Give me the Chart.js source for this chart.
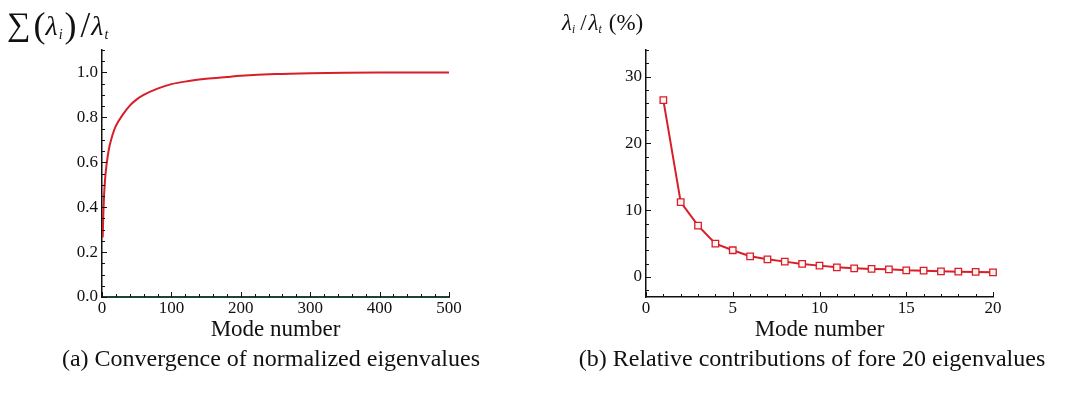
<!DOCTYPE html>
<html>
<head>
<meta charset="utf-8">
<script src="https://cdn.jsdelivr.net/npm/chart.js@4"></script>
<style>
  body { margin: 0; background: #fff; width: 1077px; height: 398px; position: relative; overflow: hidden;
         font-family: "Liberation Serif", "Times New Roman", serif; color: #111; }
  .box { position: absolute; top: 0; height: 350px; }
  #boxA { left: 0; width: 540px; }
  #boxB { left: 540px; width: 537px; }
  .ytitle { position: absolute; white-space: nowrap; line-height: 1; }
  #titleA { left: 7px; top: 5px; font-size: 28px; }
  #titleA .sum { font-size: 33px; margin-right: 3px; }
  #titleA .par { font-size: 36px; position: relative; top: 2px; }
  #titleA .sl { font-size: 35px; margin: 0 1px 0 4px; position: relative; top: 2px; }
  #titleA sub { margin: 0 2px 0 1px; }
  #titleB { left: 562px; top: 11px; font-size: 23px; }
  #titleB .si { margin-right: 5px; }
  #titleB .sl { margin-right: 2px; }
  #titleB .st { margin-right: 7px; }
  sub { font-size: 0.5em; font-style: italic; vertical-align: -0.3em; }
  .caption { position: absolute; top: 345px; font-size: 24px; white-space: nowrap; transform: translateX(-50%); }
</style>
</head>
<body>
<div class="box" id="boxA"><canvas id="chartA"></canvas></div>
<div class="box" id="boxB"><canvas id="chartB"></canvas></div>
<div class="ytitle" id="titleA"><span class="sum">∑</span><span class="par">(</span><i>λ</i><sub>i</sub><span class="par">)</span><span class="sl">/</span><i>λ</i><sub>t</sub></div>
<div class="ytitle" id="titleB"><i>λ</i><sub class="si">i</sub><span class="sl">/</span><i>λ</i><sub class="st">t</sub>(%)</div>
<div class="caption" style="left:271px">(a) Convergence of normalized eigenvalues</div>
<div class="caption" style="left:812px">(b) Relative contributions of fore 20 eigenvalues</div>
<script>
// (a) cumulative ratio of eigenvalues
const modeA = [1, 2, 3, 4, 5, 7, 10, 15, 20, 30, 40, 50, 60, 80, 100, 125, 150, 180, 200, 250, 300, 350, 400, 500];
const cumRatio = [0.265, 0.377, 0.454, 0.504, 0.544, 0.60, 0.66, 0.72, 0.762, 0.812, 0.852, 0.88, 0.90, 0.928, 0.948, 0.962, 0.972, 0.98, 0.985, 0.993, 0.997, 0.999, 1.0, 1.0];

// (b) relative contribution of first 20 modes (%)
const modeB = [1, 2, 3, 4, 5, 6, 7, 8, 9, 10, 11, 12, 13, 14, 15, 16, 17, 18, 19, 20];
const contrib = [26.5, 11.2, 7.7, 5.0, 4.0, 3.1, 2.65, 2.3, 1.95, 1.7, 1.45, 1.3, 1.2, 1.15, 1.0, 0.95, 0.85, 0.8, 0.75, 0.7];

const RED = "#d81e28";
const FONT = "'Liberation Serif', 'Times New Roman', serif";

// inward ticks with minor subdivisions
const inwardTicks = {
  id: "inwardTicks",
  afterDraw(chart, args, opts) {
    const ctx = chart.ctx;
    ctx.save();
    ctx.strokeStyle = "#111";
    ctx.lineWidth = 1;
    Object.values(chart.scales).forEach(s => {
      const o = opts[s.id];
      if (!o) return;
      const start = Math.ceil(s.min / o.minor - 1e-9) * o.minor;
      for (let v = start; v <= s.max + 1e-9; v += o.minor) {
        const k = v / o.major;
        const isMajor = Math.abs(k - Math.round(k)) < 1e-6;
        const len = isMajor ? 5 : 3;
        const p = Math.round(s.getPixelForValue(v)) + 0.5;
        ctx.beginPath();
        if (s.isHorizontal()) {
          ctx.moveTo(p, s.top);
          ctx.lineTo(p, s.top - len);
        } else {
          ctx.moveTo(s.right, p);
          ctx.lineTo(s.right + len, p);
        }
        ctx.stroke();
      }
    });
    ctx.restore();
  }
};

function axisX(min, max, step) {
  return {
    type: "linear", min: min, max: max,
    afterFit: s => { s.height = 53; },
    border: { color: "#111", width: 1.5 },
    grid: { display: true, drawOnChartArea: false, drawTicks: false },
    ticks: { stepSize: step, padding: 1, color: "#111", maxRotation: 0, includeBounds: false,
             font: { family: FONT, size: 17 } },
    title: { display: true, text: "Mode number", color: "#111",
             padding: { top: 0, bottom: 6 }, font: { family: FONT, size: 23 } }
  };
}

function axisY(min, max, step, width, fmt) {
  return {
    type: "linear", min: min, max: max,
    afterFit: s => { s.width = width; },
    border: { color: "#111", width: 1.5 },
    grid: { display: true, drawOnChartArea: false, drawTicks: false },
    ticks: { stepSize: step, padding: 4, color: "#111", includeBounds: false,
             font: { family: FONT, size: 17 }, callback: fmt }
  };
}

Chart.defaults.animation = false;

new Chart(document.getElementById("chartA"), {
  type: "line",
  data: {
    datasets: [{
      data: modeA.map((m, i) => ({ x: m, y: cumRatio[i] })),
      borderColor: RED,
      borderWidth: 2,
      pointRadius: 0,
      cubicInterpolationMode: "monotone"
    }]
  },
  options: {
    responsive: true,
    maintainAspectRatio: false,
    layout: { padding: { left: 0, right: 91, top: 50, bottom: 0 } },
    plugins: {
      legend: { display: false },
      tooltip: { enabled: false },
      inwardTicks: { x: { major: 100, minor: 20 }, y: { major: 0.2, minor: 0.05 } }
    },
    scales: {
      x: Object.assign(axisX(0, 500, 100), { border: { color: "#1d4432", width: 2 } }),
      y: axisY(0, 1.1, 0.2, 102, v => v.toFixed(1))
    }
  },
  plugins: [inwardTicks]
});

new Chart(document.getElementById("chartB"), {
  type: "line",
  data: {
    datasets: [{
      data: modeB.map((m, i) => ({ x: m, y: contrib[i] })),
      borderColor: RED,
      borderWidth: 2,
      clip: false,
      pointStyle: "rect",
      pointRadius: 4.6,
      pointBorderWidth: 1.3,
      pointBorderColor: RED,
      pointBackgroundColor: "#fff5f5",
      tension: 0
    }]
  },
  options: {
    responsive: true,
    maintainAspectRatio: false,
    layout: { padding: { left: 0, right: 84, top: 50, bottom: 0 } },
    plugins: {
      legend: { display: false },
      tooltip: { enabled: false },
      inwardTicks: { x: { major: 5, minor: 1 }, y: { major: 10, minor: 2 } }
    },
    scales: {
      x: axisX(0, 20, 5),
      y: axisY(-3, 34, 10, 106, v => String(v))
    }
  },
  plugins: [inwardTicks]
});
</script>
</body>
</html>
